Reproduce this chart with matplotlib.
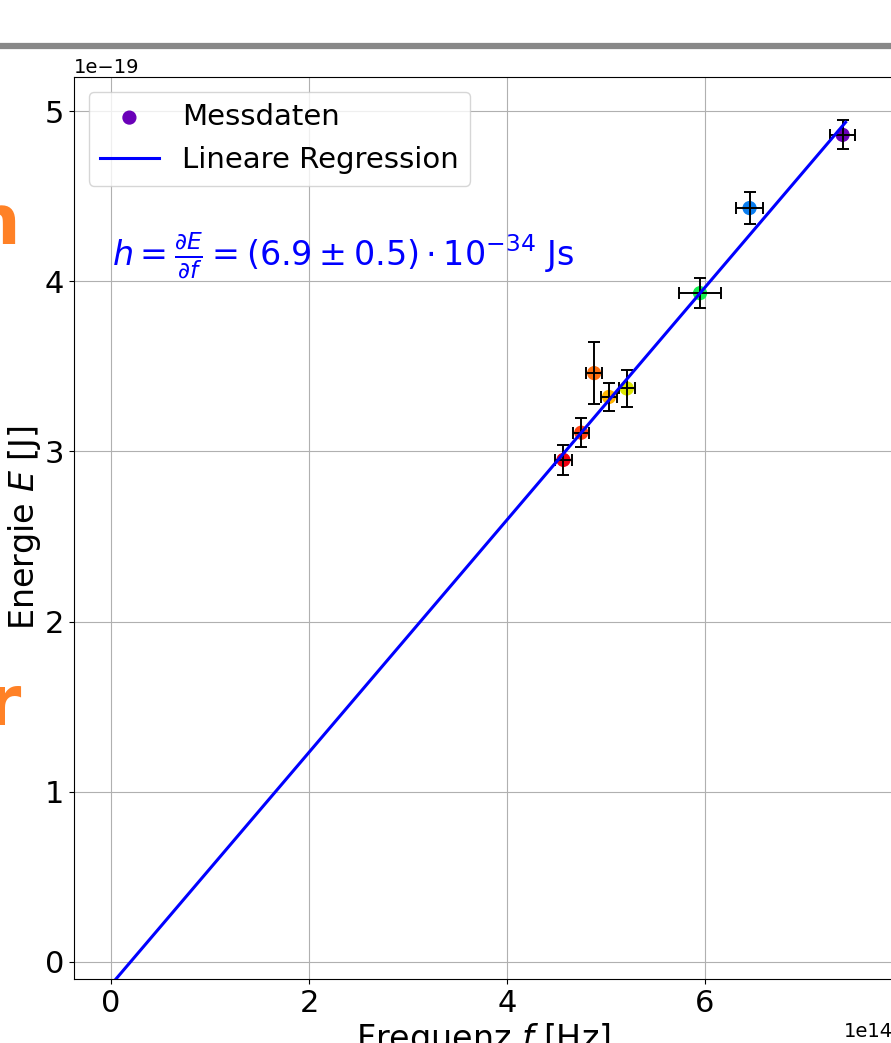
import numpy as np
import matplotlib
matplotlib.use("Agg")
import matplotlib.pyplot as plt
from matplotlib.lines import Line2D

# Data (frequency in 1e14 Hz, energy in 1e-19 J)
freq = [7.39, 6.45, 5.95, 5.21, 5.03, 4.88, 4.75, 4.57]
energy = [4.86, 4.43, 3.93, 3.37, 3.32, 3.46, 3.11, 2.95]
freq_err = [0.13, 0.14, 0.21, 0.08, 0.08, 0.08, 0.08, 0.09]
energy_err = [0.085, 0.095, 0.09, 0.11, 0.08, 0.18, 0.085, 0.09]
point_colors = ['#6a00b8', '#0a7ef0', '#14f050', '#dce600', '#ffb400',
                '#ff7010', '#ff4010', '#f00010']
fit_slope = 0.683
fit_intercept = -0.134
fit_range = [0.0, 7.42]

fig = plt.figure(figsize=(8.91, 10.43), dpi=100)
ax = fig.add_axes([74/891, 1 - 979/1043, 819/891, (979 - 77)/1043])

f_scale = 1e14
e_scale = 1e-19
f = np.array(freq) * f_scale
E = np.array(energy) * e_scale

ax.scatter(f, E, c=point_colors, s=85, zorder=2, label='Messdaten')
ax.errorbar(f, E, xerr=np.array(freq_err) * f_scale, yerr=np.array(energy_err) * e_scale,
            fmt='none', ecolor='black', elinewidth=1.4, capsize=4, capthick=1.4, zorder=3)
xf = np.linspace(fit_range[0], fit_range[1], 100) * f_scale
ax.plot(xf, (fit_slope * (xf / f_scale) + fit_intercept) * e_scale, color='blue', lw=2.2,
        zorder=4, label='Lineare Regression')

ax.set_xlim(-0.374 * f_scale, 7.899 * f_scale)
ax.set_ylim(-0.1 * e_scale, 5.2 * e_scale)
ax.set_xticks(np.arange(0, 8, 2) * f_scale)
ax.set_yticks(np.arange(0, 6, 1) * e_scale)
ax.grid(True, color='#b0b0b0', lw=0.8)
ax.set_axisbelow(True)
ax.tick_params(labelsize=22)
ax.xaxis.get_offset_text().set_fontsize(14)
ax.yaxis.get_offset_text().set_fontsize(14)
ax.set_xlabel(r'Frequenz $f$ [Hz]', fontsize=24, labelpad=2)
ax.set_ylabel(r'Energie $E$ [J]', fontsize=24, labelpad=1)

ax.legend(loc='upper left', fontsize=21)
ax.text(0.01 * f_scale, 4.095 * e_scale,
        r'$h = \frac{\partial E}{\partial f} = (6.9 \pm 0.5) \cdot 10^{-34}$ Js',
        color='blue', fontsize=24, va='baseline', ha='left')

# slide decorations
fig.add_artist(Line2D([0, 1], [1 - 45.5/1043, 1 - 45.5/1043], color='#888888', lw=4.5,
                      transform=fig.transFigure))
fig.text(20/891, 1 - 244/1043, 'n', color='#ff8126', fontsize=50, fontweight='heavy',
         ha='right', va='baseline')
fig.text(20/891, 1 - 725/1043, 'r', color='#ff8126', fontsize=50, fontweight='heavy',
         ha='right', va='baseline')

fig.savefig('out.png', dpi=100)
